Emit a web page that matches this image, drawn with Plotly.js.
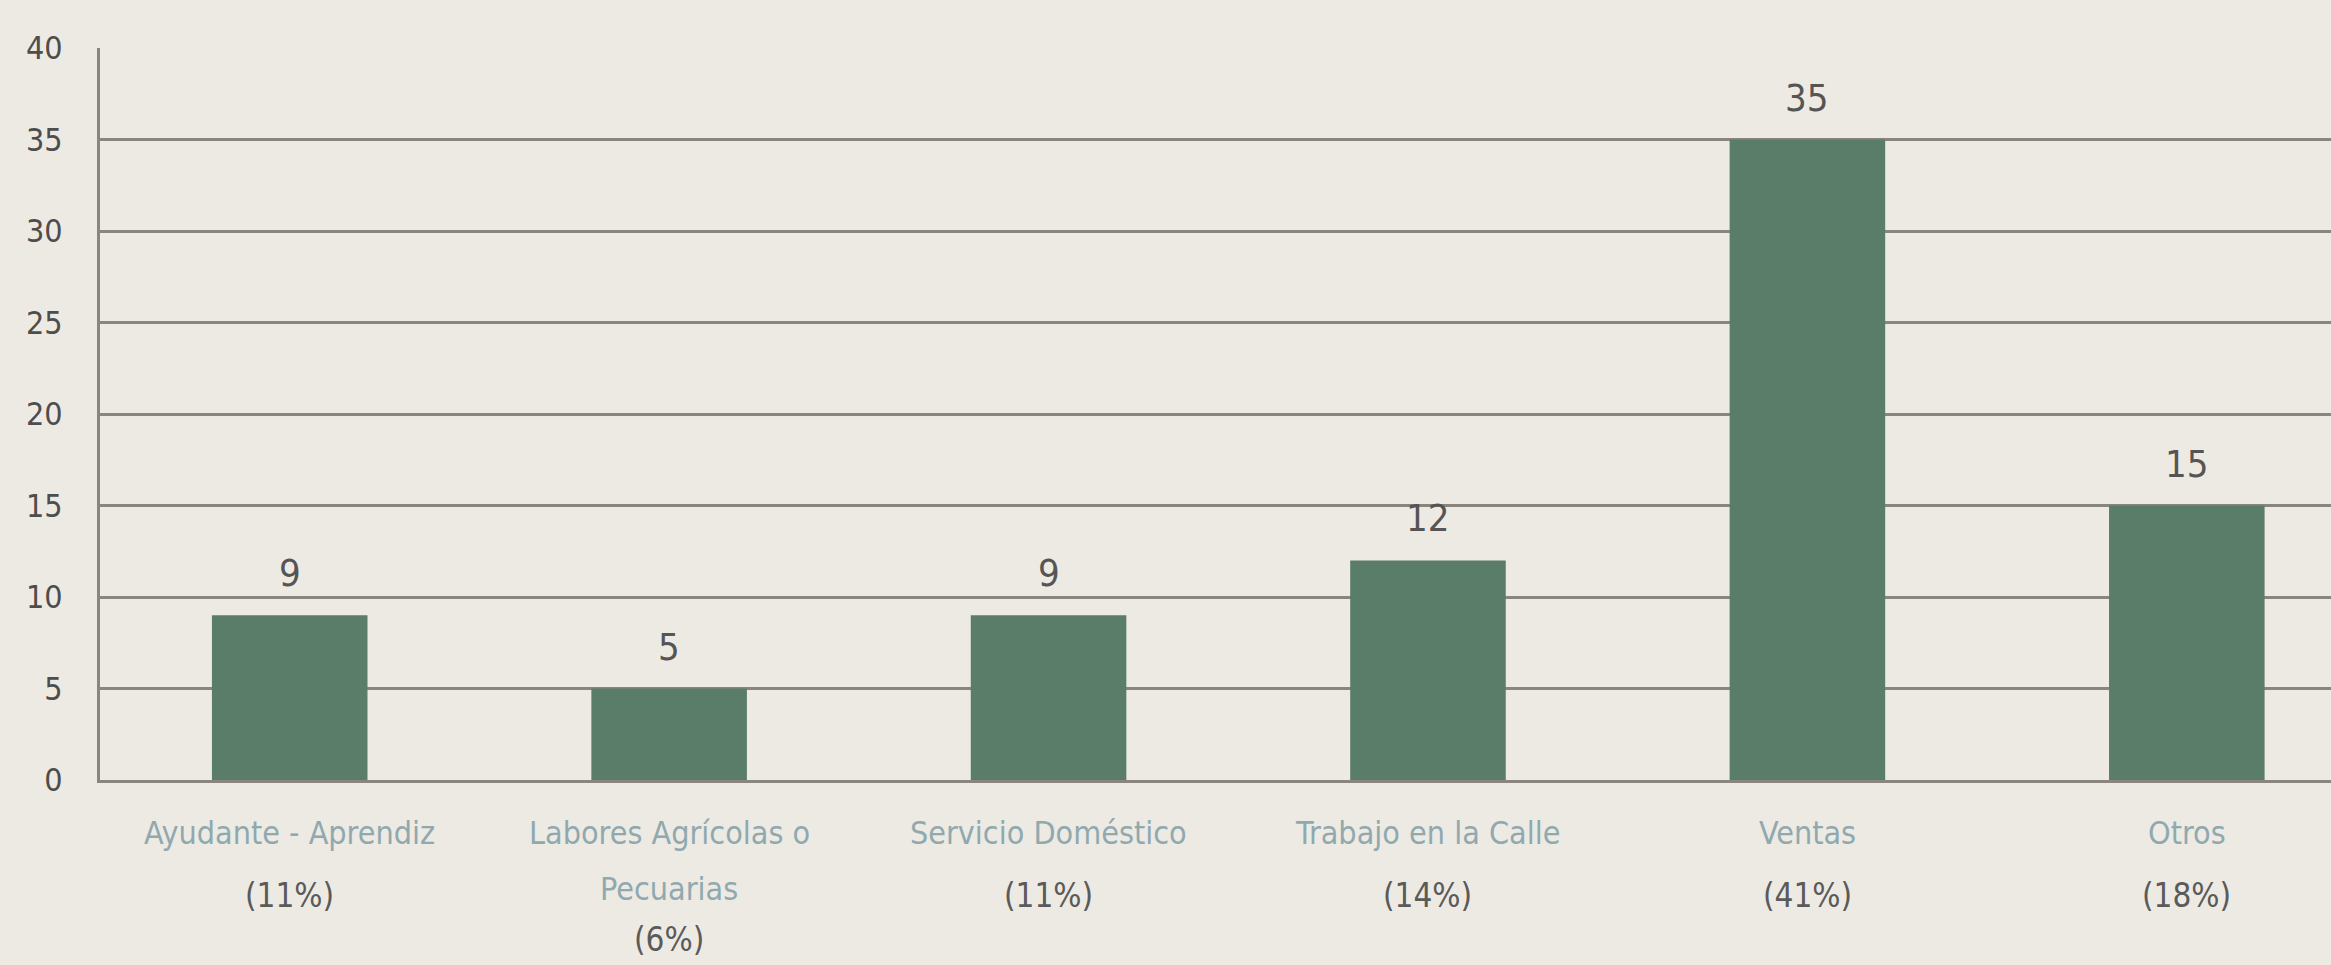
<!DOCTYPE html>
<html>
<head>
<meta charset="utf-8">
<script src="https://cdn.plot.ly/plotly-3.0.1.min.js"></script>
<style>html,body{margin:0;padding:0;background:#EDEAE4;}</style>
</head>
<body>
<div id="chart" style="width:2331px;height:965px;"></div>
<script>
const categories = ["Ayudante - Aprendiz", "Labores Agrícolas o<br>Pecuarias", "Servicio Doméstico", "Trabajo en la Calle", "Ventas", "Otros"];
const values = [9, 5, 9, 12, 35, 15];
const percents = ["11%", "6%", "11%", "14%", "41%", "18%"];
const yTicks = [0, 5, 10, 15, 20, 25, 30, 35, 40];

const FONT = "DejaVu Sans Condensed, Liberation Sans Narrow, Arial Narrow, sans-serif";
const GRID = "#8A867E";
const LINE_GAP = 56;

const trace = {
  type: "bar",
  x: categories,
  y: values,
  marker: {color: "#5A7D69"},
  hoverinfo: "x+y"
};

const valueLabels = categories.map((c, i) => ({
  x: c, y: values[i], xref: "x", yref: "y",
  text: String(values[i]),
  showarrow: false,
  yanchor: "bottom",
  yshift: 18,
  font: {family: FONT, size: 38, color: "#555555"}
}));

const categoryLabels = [];
const percentLabels = [];
categories.forEach((c, i) => {
  const lines = c.split("<br>");
  lines.forEach((ln, k) => {
    categoryLabels.push({
      x: c, y: 0, xref: "x", yref: "y",
      text: ln, showarrow: false, yanchor: "middle",
      yshift: -53 - LINE_GAP * k,
      font: {family: FONT, size: 32, color: "#8FA9AF"}
    });
  });
  percentLabels.push({
    x: c, y: 0, xref: "x", yref: "y",
    text: "(" + percents[i] + ")", showarrow: false, yanchor: "middle",
    yshift: -53 - LINE_GAP * lines.length + (lines.length > 1 ? 6 : -6),
    font: {family: FONT, size: 33, color: "#5a5a5a"}
  });
});

const layout = {
  width: 2331, height: 965,
  margin: {l: 100, r: 0, t: 48, b: 185},
  paper_bgcolor: "#EDEAE4",
  plot_bgcolor: "#EDEAE4",
  showlegend: false,
  bargap: 0.59,
  font: {family: FONT},
  xaxis: {
    type: "category",
    range: [-0.5, 5.38],
    showticklabels: false,
    showline: true, linecolor: GRID, linewidth: 3,
    showgrid: false, ticks: ""
  },
  yaxis: {
    range: [0, 40],
    tickmode: "array",
    tickvals: yTicks,
    tickfont: {family: FONT, size: 32, color: "#4d4d4d"},
    showgrid: true, gridcolor: GRID, gridwidth: 3,
    showline: true, linecolor: GRID, linewidth: 3,
    zeroline: false, ticks: "",
    ticklabelstandoff: 28
  },
  annotations: valueLabels.concat(categoryLabels, percentLabels)
};

Plotly.newPlot("chart", [trace], layout, {displayModeBar: false, staticPlot: true});
</script>
</body>
</html>
